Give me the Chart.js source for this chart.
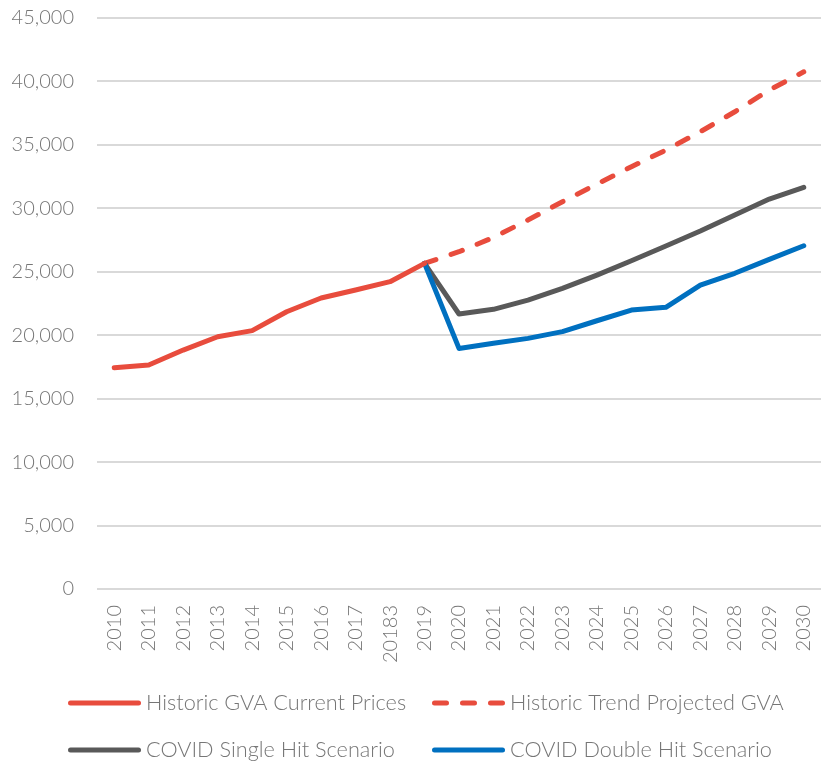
<!DOCTYPE html>
<html>
<head>
<meta charset="utf-8">
<title>GVA scenarios 2010–2030</title>
<script src="https://cdn.jsdelivr.net/npm/chart.js@4/dist/chart.umd.min.js"></script>
<style>
  html, body { margin: 0; padding: 0; background: #ffffff; }
  #wrap { width: 821px; height: 762px; }
</style>
</head>
<body>
<div id="wrap"><canvas id="gva" width="821" height="762"></canvas></div>
<script>
// Years on the category axis (label text kept as published)
const years = ['2010','2011','2012','2013','2014','2015','2016','2017','20183','2019',
               '2020','2021','2022','2023','2024','2025','2026','2027','2028','2029','2030'];

// GVA, current prices
const historicGva = [17440, 17650, 18830, 19880, 20360, 21850, 22930, 23560, 24220, 25660,
                     null, null, null, null, null, null, null, null, null, null, null];

const projectedGva = [null, null, null, null, null, null, null, null, null, 25660,
                      26580, 27710, 29080, 30520, 31910, 33280, 34590, 36040, 37610, 39320, 40760];

const singleHit = [null, null, null, null, null, null, null, null, null, 25660,
                   21670, 22040, 22770, 23690, 24740, 25870, 27030, 28210, 29470, 30730, 31650];

const doubleHit = [null, null, null, null, null, null, null, null, null, 25660,
                   18960, 19360, 19750, 20280, 21140, 21980, 22200, 23950, 24880, 25980, 27050];

const seriesNames = ['Historic GVA Current Prices', 'Historic Trend Projected GVA',
                     'COVID Single Hit Scenario', 'COVID Double Hit Scenario'];

const yTicks = [0, 5000, 10000, 15000, 20000, 25000, 30000, 35000, 40000, 45000];

const FONT = 'Lato, "Open Sans", "Noto Sans", sans-serif';
const TEXT = '#767676';

// Two-column legend drawn under the axis
const gridLegend = {
  id: 'gridLegend',
  afterDraw(chart) {
    const ctx = chart.ctx;
    const cols = [68, 432];
    const rows = [703, 750];
    ctx.save();
    ctx.font = '300 21.7px ' + FONT;
    ctx.textBaseline = 'middle';
    ctx.textAlign = 'left';
    chart.data.datasets.forEach((ds, i) => {
      const x = cols[i % 2];
      const y = rows[Math.floor(i / 2)];
      ctx.beginPath();
      ctx.lineWidth = ds.borderWidth;
      ctx.strokeStyle = ds.borderColor;
      ctx.lineCap = 'round';
      ctx.setLineDash(ds.borderDash || []);
      ctx.moveTo(x + 2.5, y);
      ctx.lineTo(x + 70.5, y);
      ctx.stroke();
      ctx.setLineDash([]);
      ctx.fillStyle = TEXT;
      ctx.fillText(ds.label, x + 78, y);
    });
    ctx.restore();
  }
};

const baseLine = {
  borderWidth: 5,
  pointRadius: 0,
  pointHoverRadius: 0,
  tension: 0,
  borderJoinStyle: 'round',
  borderCapStyle: 'round',
  spanGaps: false,
  fill: false
};

new Chart(document.getElementById('gva'), {
  type: 'line',
  data: {
    labels: years,
    datasets: [
      Object.assign({}, baseLine, { label: seriesNames[0], data: historicGva,
        borderColor: '#E84C3D', order: 1 }),
      Object.assign({}, baseLine, { label: seriesNames[1], data: projectedGva,
        borderColor: '#E84C3D', borderDash: [12, 16], order: 4 }),
      Object.assign({}, baseLine, { label: seriesNames[2], data: singleHit,
        borderColor: '#595959', order: 3 }),
      Object.assign({}, baseLine, { label: seriesNames[3], data: doubleHit,
        borderColor: '#0070C0', order: 2 })
    ]
  },
  options: {
    responsive: false,
    devicePixelRatio: 1,
    animation: false,
    layout: { padding: { top: 18, right: 0, bottom: 0, left: 0 } },
    plugins: {
      legend: { display: false },
      tooltip: { enabled: false }
    },
    scales: {
      x: {
        offset: true,
        grid: { display: false, drawTicks: false },
        border: { display: false },
        ticks: {
          color: TEXT,
          font: { family: FONT, size: 20, weight: '300' },
          minRotation: 90,
          maxRotation: 90,
          autoSkip: false,
          padding: 16
        },
        afterFit(scale) {
          scale.height = 173;
          scale.paddingLeft = 0;
          scale.paddingRight = 0;
        }
      },
      y: {
        min: 0,
        max: 45000,
        afterBuildTicks(scale) { scale.ticks = yTicks.map(v => ({ value: v })); },
        grid: { color: '#d9d9d9', lineWidth: 2, drawTicks: false },
        border: { display: false },
        ticks: {
          color: TEXT,
          font: { family: FONT, size: 20, weight: '300' },
          padding: 23,
          callback: v => v.toLocaleString('en-US')
        },
        afterFit(scale) {
          scale.width = 97;
          scale.paddingTop = 0;
          scale.paddingBottom = 0;
        }
      }
    }
  },
  plugins: [gridLegend]
});
</script>
</body>
</html>
